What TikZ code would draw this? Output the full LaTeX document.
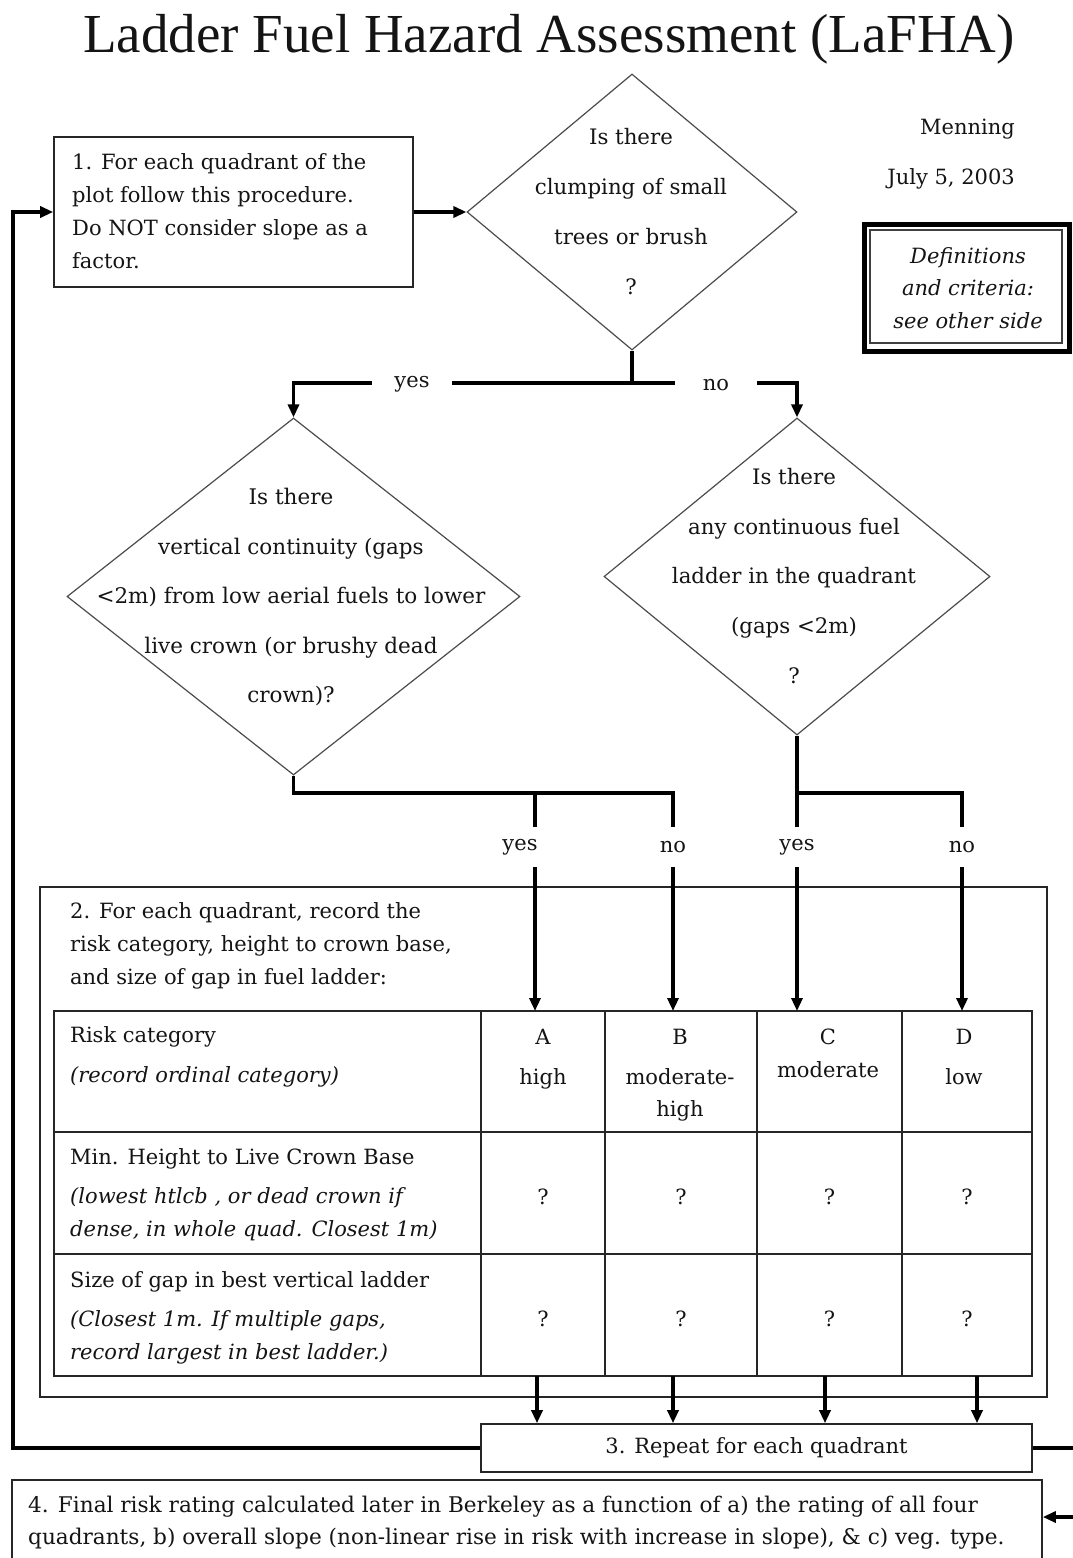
\documentclass[tikz,border=0pt]{standalone}
\usepackage{fontspec}
\setmainfont{DejaVu Serif}
\newfontfamily\headfont{Liberation Serif}
\usetikzlibrary{arrows.meta,shapes.geometric}
\begin{document}
\begin{tikzpicture}[x=1pt,y=-1pt,
  every node/.style={inner sep=0pt, text=black!92},
  txt/.style={font=\fontsize{21}{33}\selectfont},
  frame/.style={draw=black!85, line width=1.6pt, inner sep=0pt},
  decision/.style={diamond, draw=black!70, line width=1.2pt},
  cell/.style={draw=black!85, line width=1.4pt, anchor=north west, outer sep=0pt},
  flow/.style={draw=black, line width=3.2pt},
  arrow/.style={flow, -{Triangle[length=13pt,width=11pt]}},
  tag/.style={fill=white, font=\fontsize{21}{25}\selectfont}
]
\useasboundingbox (0,0) rectangle (1073,1558);
\fill[white] (0,0) rectangle (1073,1558);

% title
\node[anchor=base, font=\headfont\fontsize{55}{60}\selectfont] (title) at (549,52) {Ladder Fuel Hazard Assessment (LaFHA)};

% author and date
\node[anchor=base east, txt] (author) at (1015,134) {Menning};
\node[anchor=base east, txt] (date) at (1015,184) {July 5, 2003};

% definitions box with double frame
\node[draw=black, line width=5pt, minimum width=205pt, minimum height=127pt] (defout) at (966.5,287.5) {};
\node[draw=black!75, line width=1.4pt, minimum width=192pt, minimum height=113pt] (defin) at (966,286.5) {};
\node[anchor=north, align=center, font=\itshape\fontsize{21}{32.5}\selectfont] (deftext) at (968,247) {Definitions\\and criteria:\\see other side};

% step 1
\node[frame, minimum width=359pt, minimum height=150pt] (b1) at (233.5,212) {};
\node[anchor=north west, align=left, txt] (b1text) at (72,153) {1. For each quadrant of the\\plot follow this procedure.\\Do NOT consider slope as a\\factor.};

% decisions
\node[decision, minimum width=330pt, minimum height=276pt] (d1) at (632,212) {};
\node[align=center, font=\fontsize{21.3}{50}\selectfont] (d1text) at (631,212) {Is there\\clumping of small\\trees or brush\\?};

\node[decision, minimum width=453pt, minimum height=357pt] (d2) at (293.5,596.5) {};
\node[align=center, font=\fontsize{21.5}{49.5}\selectfont] (d2text) at (291,597) {Is there\\vertical continuity (gaps\\<2m) from low aerial fuels to lower\\live crown (or brushy dead\\crown)?};

\node[decision, minimum width=386pt, minimum height=317pt] (d3) at (797,576.5) {};
\node[align=center, font=\fontsize{21.3}{49.75}\selectfont] (d3text) at (794,576) {Is there\\any continuous fuel\\ladder in the quadrant\\(gaps <2m)\\?};

\draw[arrow] (b1.east) -- (d1.west);

% first split
\coordinate (split) at (632,383);
\draw[flow] (d1.south) -- (split);
\draw[arrow] (split) -| (d2.north);
\draw[arrow] (split) -| (d3.north);
\node[tag, minimum width=80pt, minimum height=26pt] (yes1) at (412,384) {yes};
\node[tag, minimum width=82pt, minimum height=26pt] (no1) at (716,385) {no};

% step 2 frame
\node[frame, minimum width=1007pt, minimum height=510pt] (b2) at (543.5,1142) {};
\node[anchor=north west, align=left, txt] (b2text) at (70,902) {2. For each quadrant, record the\\risk category, height to crown base,\\and size of gap in fuel ladder:};

% recording table
\foreach \r/\top/\h in {1/1011/121, 2/1132/122, 3/1254/122}
  \foreach \c/\left/\w in {L/54/427, A/481/124, B/605/152, C/757/145, D/902/130}
    \node[cell, minimum width=\w pt, minimum height=\h pt] (c\c\r) at (\left,\top) {};

\node[anchor=north west, align=left, txt] (r1text) at (70,1026) {Risk category\\[7pt]\textit{(record ordinal category)}};
\node[anchor=north west, align=left, txt] (r2text) at (70,1148) {Min. Height to Live Crown Base\\[6pt]\textit{(lowest htlcb , or dead crown if}\\\textit{dense, in whole quad. Closest 1m)}};
\node[anchor=north west, align=left, txt] (r3text) at (70,1271) {Size of gap in best vertical ladder\\[6pt]\textit{(Closest 1m. If multiple gaps,}\\\textit{record largest in best ladder.)}};

\node[anchor=north, align=center, font=\fontsize{21}{40}\selectfont] (hA) at (543,1029) {A\\high};
\node[anchor=north, align=center, font=\fontsize{21}{40}\selectfont] (hB) at (680,1029) {B\\moderate-\\[-8pt]high};
\node[anchor=north, align=center, font=\fontsize{21}{40}\selectfont] (hC) at (828,1029) {C\\[-7pt]moderate};
\node[anchor=north, align=center, font=\fontsize{21}{40}\selectfont] (hD) at (964,1029) {D\\low};

\foreach \c in {A,B,C,D}
  \foreach \r in {2,3}
    \node[font=\fontsize{21}{25}\selectfont] (q\c\r) at ([yshift=-4pt]c\c\r.center) {?};

% second splits
\coordinate (yesL) at (535,793);
\coordinate (noL) at (673,793);
\coordinate (yesR) at (797,793);
\coordinate (noR) at (962,793);
\draw[arrow] (d2.south) |- (noL) -- (noL |- cB1.north);
\draw[arrow] (yesL) -- (yesL |- cA1.north);
\draw[arrow] (d3.south) -- (d3.south |- cC1.north);
\draw[arrow] (yesR) -| (noR |- cD1.north);
\node[tag, minimum width=50pt, minimum height=40pt] (yes2) at (520,847) {yes};
\node[tag, minimum width=40pt, minimum height=40pt] (no2) at (673,847) {no};
\node[tag, minimum width=50pt, minimum height=40pt] (yes3) at (797,847) {yes};
\node[tag, minimum width=40pt, minimum height=40pt] (no3) at (962,847) {no};

% step 3
\node[frame, minimum width=551pt, minimum height=48pt, txt] (b3) at (756.5,1448) {3. Repeat for each quadrant};

\coordinate (outA) at (537,1400);
\coordinate (outB) at (673,1400);
\coordinate (outC) at (825,1400);
\coordinate (outD) at (977,1400);
\draw[arrow] (cA3.south -| outA) -- (outA |- b3.north);
\draw[arrow] (cB3.south -| outB) -- (outB |- b3.north);
\draw[arrow] (cC3.south -| outC) -- (outC |- b3.north);
\draw[arrow] (cD3.south -| outD) -- (outD |- b3.north);

% loop back to step 1
\coordinate (loopcorner) at (13,1448);
\draw[arrow] (b3.west) -- (loopcorner) |- (b1.west);

% step 4
\node[frame, minimum width=1030pt, minimum height=100pt] (b4) at (527,1530) {};
\node[anchor=north west, align=left, font=\fontsize{21.6}{32}\selectfont] (b4text) at (28,1496) {4. Final risk rating calculated later in Berkeley as a function of a) the rating of all four\\quadrants, b) overall slope (non-linear rise in risk with increase in slope), \& c) veg. type.};

\coordinate (rightout) at (1073,1448);
\draw[flow] (b3.east) -- (rightout);
\coordinate (rightin) at (1073,1517);
\draw[arrow] (rightin) -- (rightin -| b4.east);
\end{tikzpicture}
\end{document}
